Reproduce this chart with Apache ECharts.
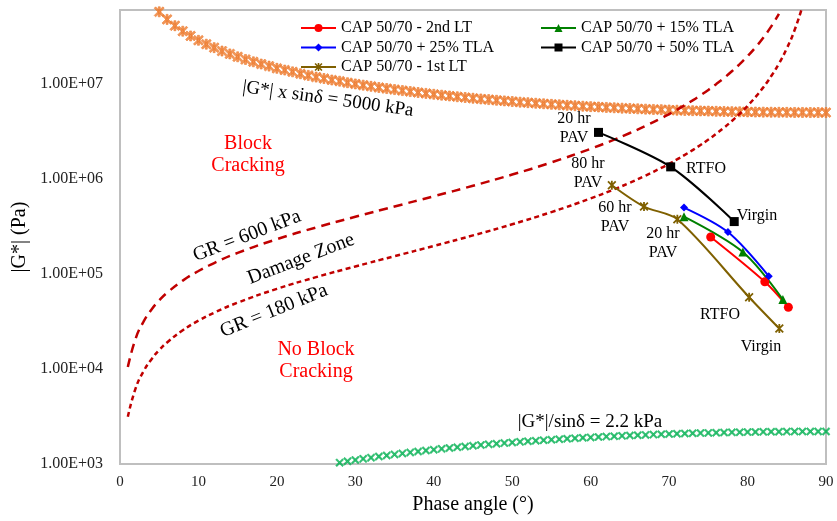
<!DOCTYPE html>
<html>
<head>
<meta charset="utf-8">
<script src="https://cdn.jsdelivr.net/npm/echarts@6/dist/echarts.min.js"></script>
<style>html,body{margin:0;padding:0;background:#fff;}#c{width:837px;height:521px;}</style>
</head>
<body>
<div id="c"></div>
<script>
// ---------- data (phase angle [deg], |G*| [Pa]) ----------
const xTicks = [0,10,20,30,40,50,60,70,80,90];
const yTickLabels = ['1.00E+03','1.00E+04','1.00E+05','1.00E+06','1.00E+07'];

const capSecondLT = [[75.3,2.45e5],[82.2,8.27e4],[85.2,4.46e4]];
const cap15TLA   = [[71.9,4.01e5],[79.4,1.70e5],[84.5,5.38e4]];
const cap25TLA   = [[71.9,5.00e5],[77.5,2.76e5],[82.7,9.48e4]];
const cap50TLA   = [[61.0,3.09e6],[70.2,1.34e6],[78.3,3.56e5]];
const capFirstLT = [[62.7,8.59e5],[66.8,5.12e5],[71.05,3.76e5],[80.2,5.69e4],[84.05,2.66e4]];

const limitSin5000 = [[5,5.74e7],[6,4.78e7],[7,4.10e7],[8,3.59e7],[9,3.20e7],[10,2.88e7],[11,2.62e7],[12,2.41e7],[13,2.22e7],[14,2.07e7],[15,1.93e7],[16,1.81e7],[17,1.71e7],[18,1.62e7],[19,1.54e7],[20,1.46e7],[21,1.40e7],[22,1.34e7],[23,1.28e7],[24,1.23e7],[25,1.18e7],[26,1.14e7],[27,1.10e7],[28,1.07e7],[29,1.03e7],[30,1.00e7],[31,9.71e6],[32,9.44e6],[33,9.18e6],[34,8.94e6],[35,8.72e6],[36,8.51e6],[37,8.31e6],[38,8.12e6],[39,7.95e6],[40,7.78e6],[41,7.62e6],[42,7.47e6],[43,7.33e6],[44,7.20e6],[45,7.07e6],[46,6.95e6],[47,6.84e6],[48,6.73e6],[49,6.63e6],[50,6.53e6],[51,6.43e6],[52,6.35e6],[53,6.26e6],[54,6.18e6],[55,6.10e6],[56,6.03e6],[57,5.96e6],[58,5.90e6],[59,5.83e6],[60,5.77e6],[61,5.72e6],[62,5.66e6],[63,5.61e6],[64,5.56e6],[65,5.52e6],[66,5.47e6],[67,5.43e6],[68,5.39e6],[69,5.36e6],[70,5.32e6],[71,5.29e6],[72,5.26e6],[73,5.23e6],[74,5.20e6],[75,5.18e6],[76,5.15e6],[77,5.13e6],[78,5.11e6],[79,5.09e6],[80,5.08e6],[81,5.06e6],[82,5.05e6],[83,5.04e6],[84,5.03e6],[85,5.02e6],[86,5.01e6],[87,5.01e6],[88,5.00e6],[89,5.00e6],[90,5.00e6]];

const limitSin22 = [[28,1033],[29,1067],[30,1100],[31,1133],[32,1166],[33,1198],[34,1230],[35,1262],[36,1293],[37,1324],[38,1354],[39,1385],[40,1414],[41,1443],[42,1472],[43,1500],[44,1528],[45,1556],[46,1583],[47,1609],[48,1635],[49,1660],[50,1685],[51,1710],[52,1734],[53,1757],[54,1780],[55,1802],[56,1824],[57,1845],[58,1866],[59,1886],[60,1905],[61,1924],[62,1942],[63,1960],[64,1977],[65,1994],[66,2010],[67,2025],[68,2040],[69,2054],[70,2067],[71,2080],[72,2092],[73,2104],[74,2115],[75,2125],[76,2135],[77,2144],[78,2152],[79,2160],[80,2167],[81,2173],[82,2179],[83,2184],[84,2188],[85,2192],[86,2195],[87,2197],[88,2199],[89,2200],[90,2200]];

const gr600 = [[1,10475],[2,20965],[3,31488],[4,42059],[5,52694],[6,63410],[8,85154],[10,107429],[12,130383],[15,166441],[20,232398],[25,308709],[30,400000],[35,512876],[40,657222],[45,848528],[50,1112418],[55,1493946],[60,2078460],[63,2593812],[65,3044586],[67,3617592],[69,4361592],[70,4819848],[71,5352258],[72,5975754],[73,6.71e6],[74,7.59e6],[75,8.65e6],[76,9.95e6],[77,1.155e7],[78,1.358e7],[79,1.618e7],[80,1.960e7],[81,2.42e7],[82,3.068e7],[83,4.01e7],[84,5.46e7]];

const gr180 = [[1,3142],[2,6290],[3,9446],[4,12618],[5,15808],[6,19023],[8,25546],[10,32229],[12,39115],[15,49932],[20,69719],[25,92613],[30,120000],[35,153863],[40,197167],[45,254558],[50,333725],[55,448184],[60,623538],[63,778144],[65,913376],[67,1085278],[69,1308478],[70,1445954],[71,1605677],[72,1792726],[73,2013714],[74,2277396],[75,2595510],[76,2984202],[77,3465918],[78,4073040],[79,4853124],[80,5878728],[81,7.26e6],[82,9.20e6],[83,1.203e7],[84,1.638e7],[85,2.361e7],[86,3.69e7],[87,6.56e7]];

// ---------- styling ----------
const FONT = '"Liberation Serif","Times New Roman",serif';
const ASTERISK = 'path://M4 0 H6 V10 H4 Z M0 1.4 L1.4 0 L10 8.6 L8.6 10 Z M8.6 0 L10 1.4 L1.4 10 L0 8.6 Z';
const CROSS = 'path://M0 1.5 L1.5 0 L10 8.5 L8.5 10 Z M8.5 0 L10 1.5 L1.5 10 L0 8.5 Z';

function txt(text, x, y, size, color, rotDeg, lh) {
  return {
    type: 'text', x: x, y: y, rotation: (rotDeg || 0) * Math.PI / 180, z: 50,
    style: { text: text, fill: color, font: size + 'px ' + FONT, align: 'center', verticalAlign: 'middle', lineHeight: lh || size + 2 }
  };
}

const chart = echarts.init(document.getElementById('c'), null, { renderer: 'canvas' });
chart.setOption({
  animation: false,
  backgroundColor: '#ffffff',
  textStyle: { fontFamily: FONT },
  grid: { left: 120, right: 11, top: 10, bottom: 57, show: true, borderColor: '#bfbfbf', borderWidth: 2, containLabel: false },
  legend: [
    { left: 295, top: 15, orient: 'vertical', itemWidth: 35, itemHeight: 10, itemGap: 3.5,
      textStyle: { fontFamily: FONT, fontSize: 16, color: '#000', lineHeight: 16 },
      data: ['CAP 50/70 - 2nd LT', 'CAP 50/70 + 25% TLA', 'CAP 50/70 - 1st LT'] },
    { left: 535, top: 15, orient: 'vertical', itemWidth: 35, itemHeight: 10, itemGap: 3.5,
      textStyle: { fontFamily: FONT, fontSize: 16, color: '#000', lineHeight: 16 },
      data: ['CAP 50/70 + 15% TLA', 'CAP 50/70 + 50% TLA'] }
  ],
  xAxis: {
    type: 'value', min: xTicks[0], max: xTicks[xTicks.length - 1], interval: 10,
    name: 'Phase angle (°)', nameLocation: 'middle', nameGap: 31,
    nameTextStyle: { fontFamily: FONT, fontSize: 20, color: '#000' },
    axisLine: { show: true, lineStyle: { color: '#bfbfbf', width: 2 } },
    axisTick: { show: false }, splitLine: { show: false },
    axisLabel: { fontFamily: FONT, fontSize: 15, color: '#222', margin: 11 }
  },
  yAxis: {
    type: 'log', logBase: 10, min: 1000, max: 6e7,
    name: '|G*| (Pa)', nameLocation: 'middle', nameGap: 87, nameRotate: 90,
    nameTextStyle: { fontFamily: FONT, fontSize: 20, color: '#000' },
    axisLine: { show: true, lineStyle: { color: '#bfbfbf', width: 2 } },
    axisTick: { show: false }, splitLine: { show: false },
    axisLabel: {
      fontFamily: FONT, fontSize: 16, color: '#222', margin: 17, showMaxLabel: false,
      formatter: function (v) {
        const e = Math.log10(v);
        const k = Math.round(e) - 3;
        if (Math.abs(e - Math.round(e)) > 1e-6 || k < 0 || k >= yTickLabels.length) return '';
        return yTickLabels[k];
      }
    }
  },
  series: [
    { name: 'sin5000', type: 'scatter', data: limitSin5000, symbol: ASTERISK, symbolSize: 10,
      itemStyle: { color: '#ED7D31', borderColor: '#ED7D31', borderWidth: 0.8 }, z: 2, silent: true },
    { name: 'sin22', type: 'scatter', data: limitSin22, symbol: CROSS, symbolSize: 8,
      itemStyle: { color: '#00B050', borderColor: '#00B050', borderWidth: 0.5 }, z: 2, silent: true },
    { name: 'GR600', type: 'line', data: gr600, showSymbol: false, smooth: true,
      lineStyle: { color: '#C00000', width: 2.5, type: [9, 6] }, z: 3, silent: true },
    { name: 'GR180', type: 'line', data: gr180, showSymbol: false, smooth: true,
      lineStyle: { color: '#C00000', width: 2.5, type: [5, 3.5] }, z: 3, silent: true },
    { name: 'CAP 50/70 - 2nd LT', type: 'line', data: capSecondLT, smooth: 0.3, symbol: 'circle', symbolSize: 9,
      itemStyle: { color: '#FF0000' }, lineStyle: { color: '#FF0000', width: 2 }, z: 10 },
    { name: 'CAP 50/70 + 15% TLA', type: 'line', data: cap15TLA, smooth: 0.3, symbol: 'triangle', symbolSize: 9,
      itemStyle: { color: '#008000' }, lineStyle: { color: '#008000', width: 2 }, z: 10 },
    { name: 'CAP 50/70 + 25% TLA', type: 'line', data: cap25TLA, smooth: 0.3, symbol: 'diamond', symbolSize: 8,
      itemStyle: { color: '#0000FF' }, lineStyle: { color: '#0000FF', width: 2 }, z: 10 },
    { name: 'CAP 50/70 + 50% TLA', type: 'line', data: cap50TLA, smooth: 0.3, symbol: 'rect', symbolSize: 9,
      itemStyle: { color: '#000000' }, lineStyle: { color: '#000000', width: 2 }, z: 10 },
    { name: 'CAP 50/70 - 1st LT', type: 'line', data: capFirstLT, smooth: 0.3, symbol: ASTERISK, symbolSize: 9,
      itemStyle: { color: '#7F6000' }, lineStyle: { color: '#7F6000', width: 2 }, z: 10 }
  ],
  graphic: [
    txt('|G*| x sinδ = 5000 kPa', 328, 99, 19, '#000', -8),
    txt('Block\nCracking', 248, 155, 20, '#FF0000', 0, 22),
    txt('GR = 600 kPa', 247, 236, 20, '#000', 21),
    txt('Damage Zone', 301, 259, 20, '#000', 21),
    txt('GR = 180 kPa', 274, 311, 20, '#000', 22),
    txt('No Block\nCracking', 316, 361, 20, '#FF0000', 0, 22),
    txt('|G*|/sinδ = 2.2 kPa', 590, 422, 19, '#000', 0),
    txt('20 hr\nPAV', 574, 128, 16, '#000', 0, 19),
    txt('RTFO', 706, 169, 16, '#000', 0),
    txt('Virgin', 757, 216, 16, '#000', 0),
    txt('80 hr\nPAV', 588, 173, 16, '#000', 0, 19),
    txt('60 hr\nPAV', 615, 217, 16, '#000', 0, 19),
    txt('20 hr\nPAV', 663, 243, 16, '#000', 0, 19),
    txt('RTFO', 720, 315, 16, '#000', 0),
    txt('Virgin', 761, 347, 16, '#000', 0)
  ]
});
</script>
</body>
</html>
